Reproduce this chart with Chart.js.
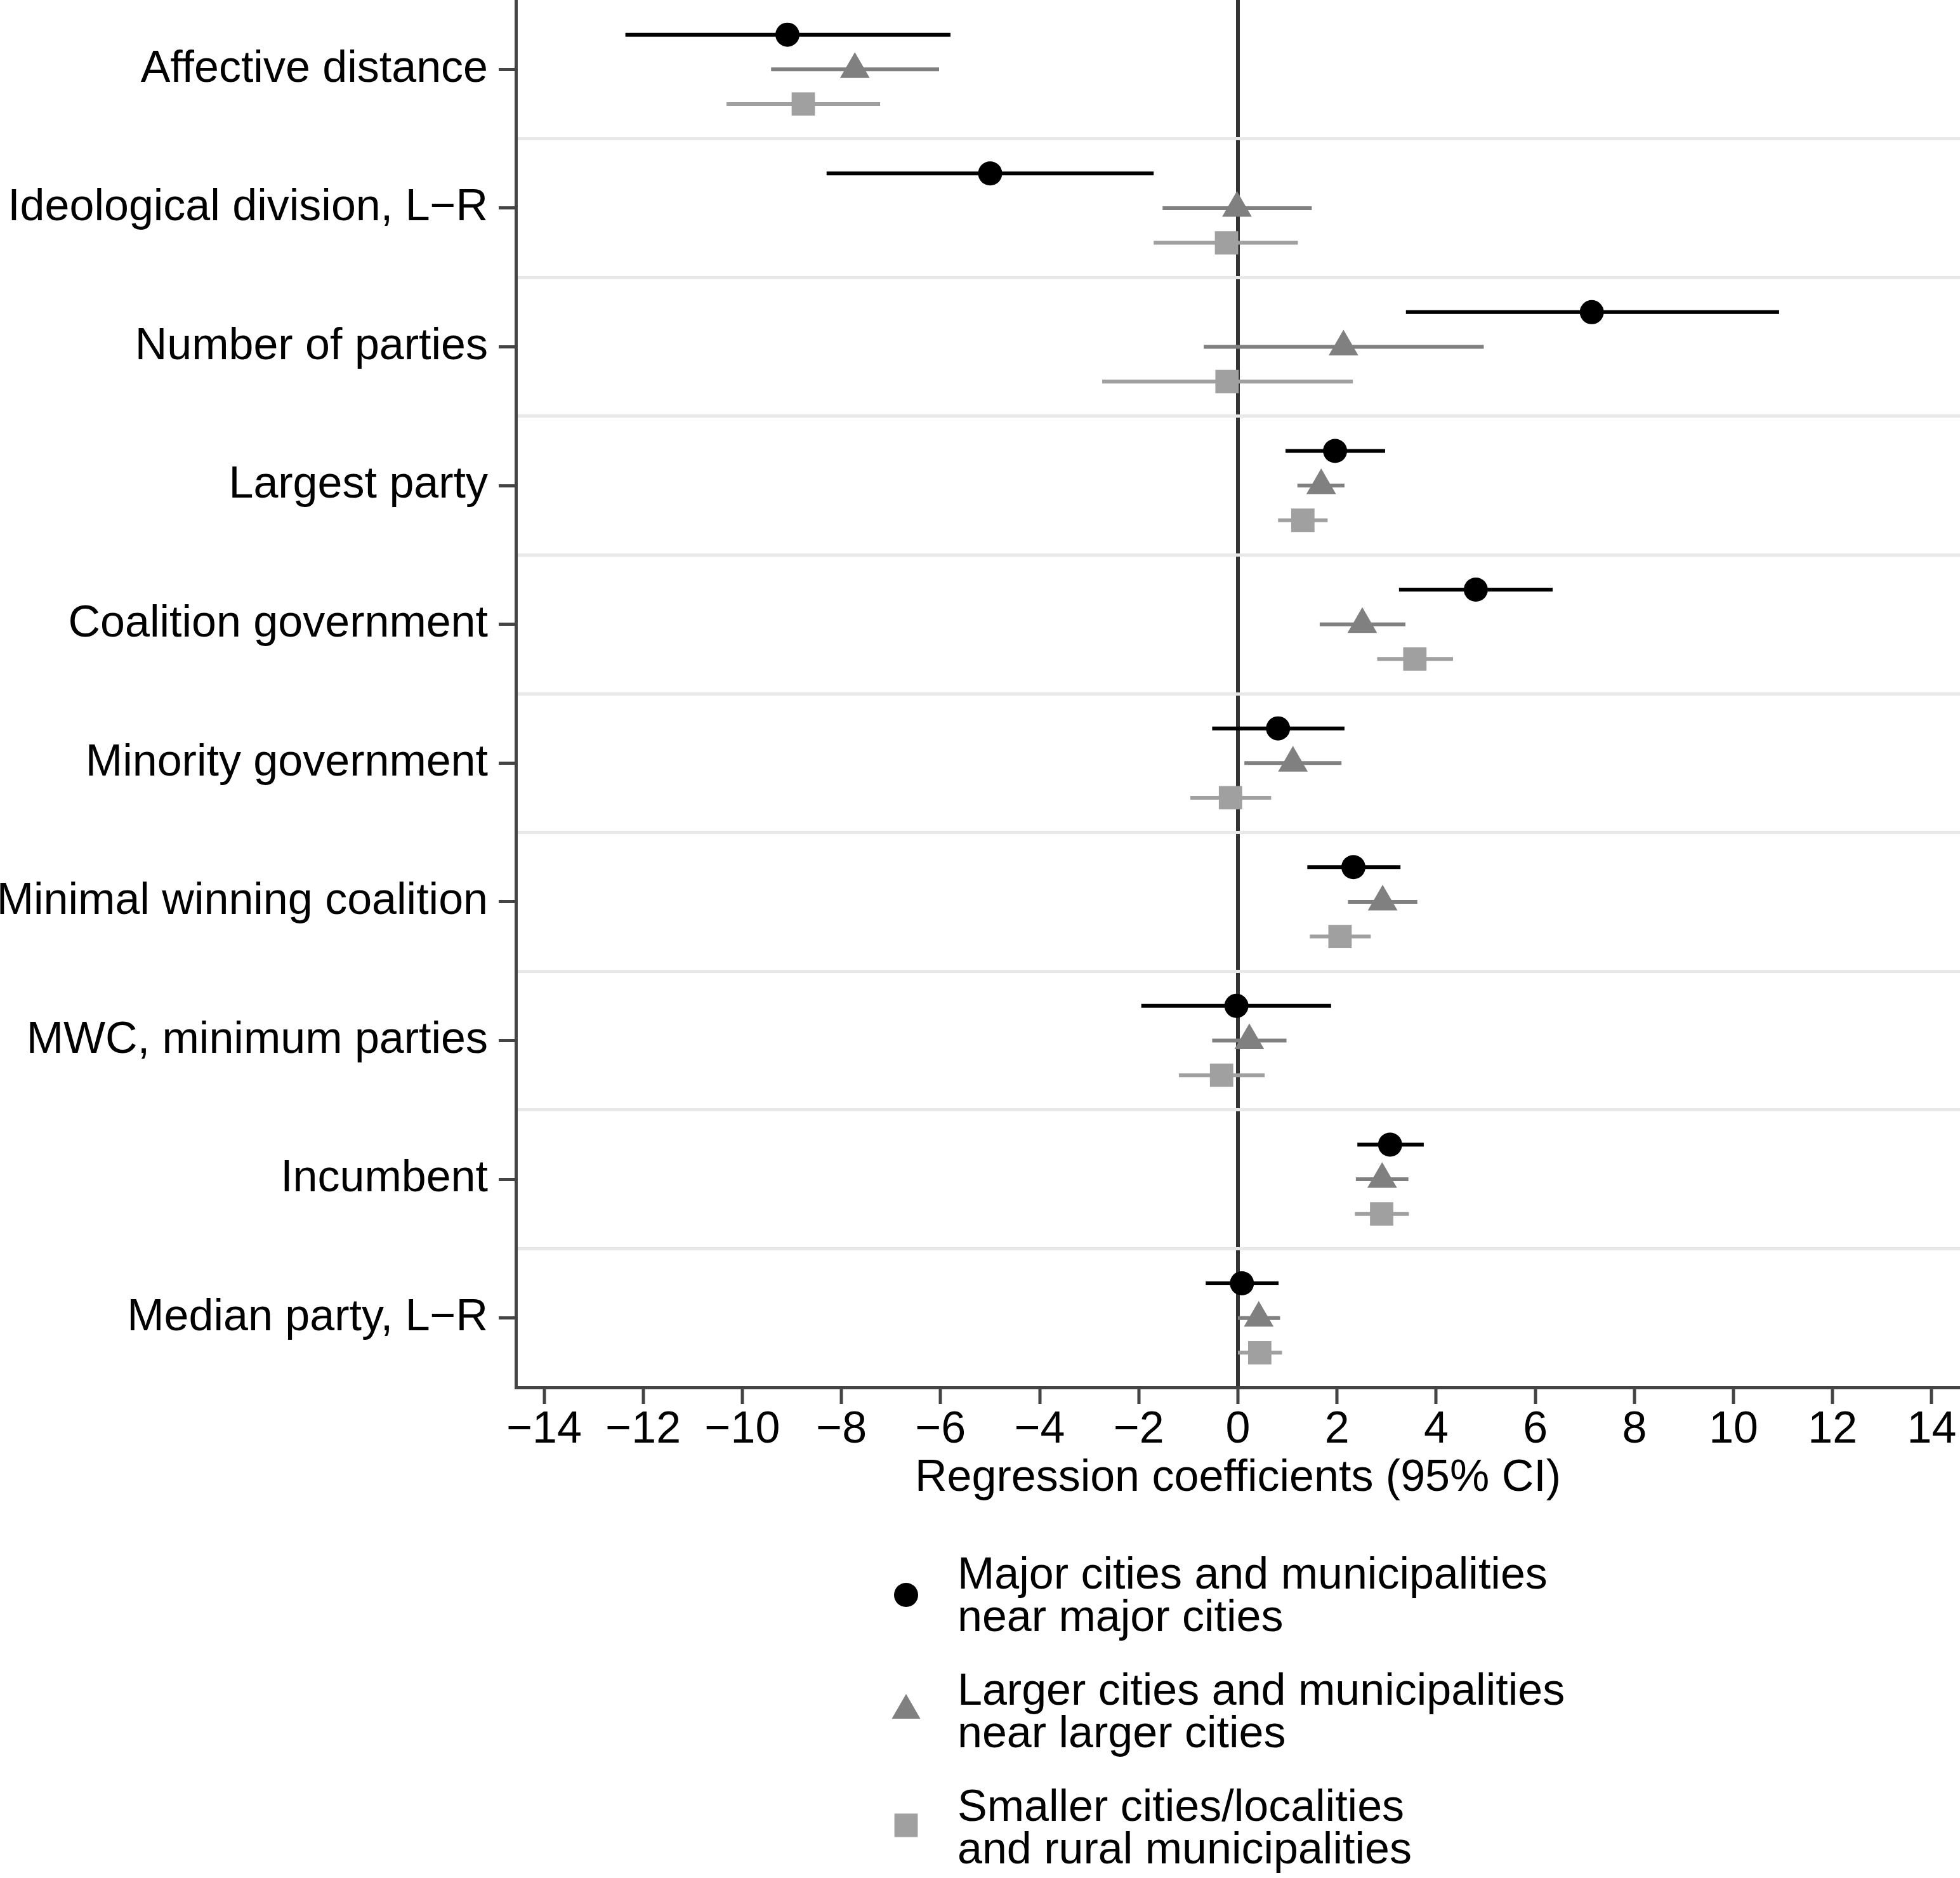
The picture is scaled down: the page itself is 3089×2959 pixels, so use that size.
<!DOCTYPE html>
<html>
<head>
<meta charset="utf-8">
<script src="https://cdn.jsdelivr.net/npm/chart.js@4.4.0/dist/chart.umd.min.js"></script>
<style>
  html, body { margin: 0; padding: 0; background: #fff; }
  canvas { display: block; background: #fff; }
</style>
</head>
<body>
<canvas id="coefChart" width="3089" height="2959"></canvas>
<script>
const categories = [
  "Affective distance",
  "Ideological division, L\u2212R",
  "Number of parties",
  "Largest party",
  "Coalition government",
  "Minority government",
  "Minimal winning coalition",
  "MWC, minimum parties",
  "Incumbent",
  "Median party, L\u2212R",
];

// Major cities and municipalities near major cities
const majorCoef = [-9.09, -5.0, 7.14, 1.96, 4.8, 0.81, 2.33, -0.03, 3.07, 0.08];
const majorLo = [-12.36, -8.3, 3.39, 0.96, 3.25, -0.52, 1.4, -1.95, 2.41, -0.65];
const majorHi = [-5.8, -1.7, 10.92, 2.97, 6.35, 2.15, 3.28, 1.88, 3.75, 0.82];

// Larger cities and municipalities near larger cities
const largerCoef = [-7.73, -0.02, 2.13, 1.68, 2.51, 1.11, 2.92, 0.23, 2.91, 0.42];
const largerLo = [-9.42, -1.52, -0.69, 1.2, 1.65, 0.13, 2.22, -0.52, 2.38, 0.0];
const largerHi = [-6.03, 1.49, 4.96, 2.15, 3.38, 2.09, 3.62, 0.98, 3.44, 0.85];

// Smaller cities/localities and rural municipalities
const smallerCoef = [-8.77, -0.23, -0.22, 1.31, 3.57, -0.15, 2.06, -0.33, 2.9, 0.44];
const smallerLo = [-10.32, -1.7, -2.74, 0.81, 2.81, -0.96, 1.45, -1.19, 2.36, 0.0];
const smallerHi = [-7.22, 1.21, 2.32, 1.81, 4.34, 0.67, 2.68, 0.54, 3.45, 0.89];

const xTicks = [-14, -12, -10, -8, -6, -4, -2, 0, 2, 4, 6, 8, 10, 12, 14];
const legendLabels = [
  ["Major cities and municipalities", "near major cities"],
  ["Larger cities and municipalities", "near larger cities"],
  ["Smaller cities/localities", "and rural municipalities"],
];

const FONT = "'Liberation Sans', Arial, Helvetica, sans-serif";
Chart.defaults.font.family = FONT;
Chart.defaults.font.size = 70;
Chart.defaults.color = "#000";

function makePoints(values, offset) {
  return values.map((v, i) => ({ x: v, y: i + offset }));
}

function minusLabel(v) {
  return v < 0 ? "\u2212" + Math.abs(v) : String(v);
}

// horizontal confidence intervals, drawn under the markers
const errorBars = {
  id: "errorBars",
  beforeDatasetsDraw(chart) {
    const ctx = chart.ctx;
    const xScale = chart.scales.x;
    ctx.save();
    chart.data.datasets.forEach((ds, d) => {
      const meta = chart.getDatasetMeta(d);
      ctx.strokeStyle = ds.backgroundColor;
      ctx.lineWidth = 6;
      meta.data.forEach((pt, i) => {
        const x1 = xScale.getPixelForValue(ds.lo[i]);
        const x2 = xScale.getPixelForValue(ds.hi[i]);
        ctx.beginPath();
        ctx.moveTo(x1, pt.y);
        ctx.lineTo(x2, pt.y);
        ctx.stroke();
      });
    });
    ctx.restore();
  },
};

// stacked legend with two line labels below the axis
const stackedLegend = {
  id: "stackedLegend",
  afterDraw(chart) {
    const ctx = chart.ctx;
    const markerX = 1428;
    const markerY = [2513, 2695, 2876];
    const textX = 1509;
    const baseY = [2503, 2686, 2869];
    ctx.save();
    chart.data.datasets.forEach((ds, d) => {
      ctx.fillStyle = ds.backgroundColor;
      Chart.helpers.drawPoint(
        ctx,
        { pointStyle: ds.pointStyle, radius: ds.legendRadius, borderWidth: 0, rotation: 0 },
        markerX,
        markerY[d]
      );
      ctx.fillStyle = "#000";
      ctx.font = "70px " + FONT;
      ctx.textAlign = "left";
      ctx.textBaseline = "alphabetic";
      legendLabels[d].forEach((line, j) => {
        ctx.fillText(line, textX, baseY[d] + j * 67);
      });
    });
    ctx.restore();
  },
};

new Chart(document.getElementById("coefChart"), {
  type: "scatter",
  data: {
    datasets: [
      {
        label: legendLabels[0].join(" "),
        data: makePoints(majorCoef, -0.25),
        lo: majorLo,
        hi: majorHi,
        pointStyle: "circle",
        pointRadius: 19,
        legendRadius: 19,
        backgroundColor: "#000000",
        pointBorderWidth: 0,
      },
      {
        label: legendLabels[1].join(" "),
        data: makePoints(largerCoef, 0),
        lo: largerLo,
        hi: largerHi,
        pointStyle: "triangle",
        pointRadius: 27,
        legendRadius: 26,
        backgroundColor: "#808080",
        pointBorderWidth: 0,
      },
      {
        label: legendLabels[2].join(" "),
        data: makePoints(smallerCoef, 0.25),
        lo: smallerLo,
        hi: smallerHi,
        pointStyle: "rect",
        pointRadius: 26,
        legendRadius: 26,
        backgroundColor: "#a0a0a0",
        pointBorderWidth: 0,
      },
    ],
  },
  options: {
    responsive: false,
    animation: false,
    devicePixelRatio: 1,
    layout: { autoPadding: false, padding: { top: 0, left: 0, right: 0, bottom: 573 } },
    plugins: {
      legend: { display: false },
      tooltip: { enabled: false },
    },
    scales: {
      x: {
        type: "linear",
        min: -14.57,
        max: 14.57,
        z: 1,
        afterBuildTicks: (scale) => {
          scale.ticks = xTicks.map((v) => ({ value: v }));
        },
        afterFit: (scale) => {
          scale.height = 200;
          scale.paddingLeft = 0;
          scale.paddingRight = 0;
        },
        ticks: {
          padding: 0,
          autoSkip: false,
          maxRotation: 0,
          callback: (v) => minusLabel(v),
        },
        grid: {
          color: (c) => (c.tick && c.tick.value === 0 ? "#333333" : "rgba(0,0,0,0)"),
          lineWidth: 6,
          tickColor: "#444444",
          tickWidth: 5,
          tickLength: 26,
        },
        border: { display: true, color: "#444444", width: 5 },
        title: {
          display: true,
          text: "Regression coefficients (95% CI)",
          font: { size: 70 },
          padding: { top: 0, bottom: 14 },
        },
      },
      y: {
        type: "linear",
        position: "left",
        min: -0.5,
        max: 9.5,
        reverse: true,
        afterBuildTicks: (scale) => {
          scale.ticks = categories.map((c, i) => ({ value: i }));
        },
        afterFit: (scale) => {
          scale.width = 813;
          scale.paddingTop = 0;
          scale.paddingBottom = 0;
        },
        ticks: {
          padding: 17,
          autoSkip: false,
          callback: (v) => categories[v],
        },
        grid: {
          drawOnChartArea: false,
          tickColor: "#444444",
          tickWidth: 5,
          tickLength: 27,
        },
        border: { display: true, color: "#444444", width: 5 },
      },
      yGrid: {
        type: "linear",
        position: "left",
        min: -0.5,
        max: 9.5,
        reverse: true,
        afterBuildTicks: (scale) => {
          scale.ticks = categories.slice(1).map((c, i) => ({ value: i + 0.5 }));
        },
        afterFit: (scale) => {
          scale.width = 0;
          scale.paddingTop = 0;
          scale.paddingBottom = 0;
        },
        ticks: { display: false },
        grid: {
          color: "#e8e8e8",
          lineWidth: 5,
          drawTicks: false,
        },
        border: { display: false },
      },
    },
  },
  plugins: [errorBars, stackedLegend],
});
</script>
</body>
</html>
